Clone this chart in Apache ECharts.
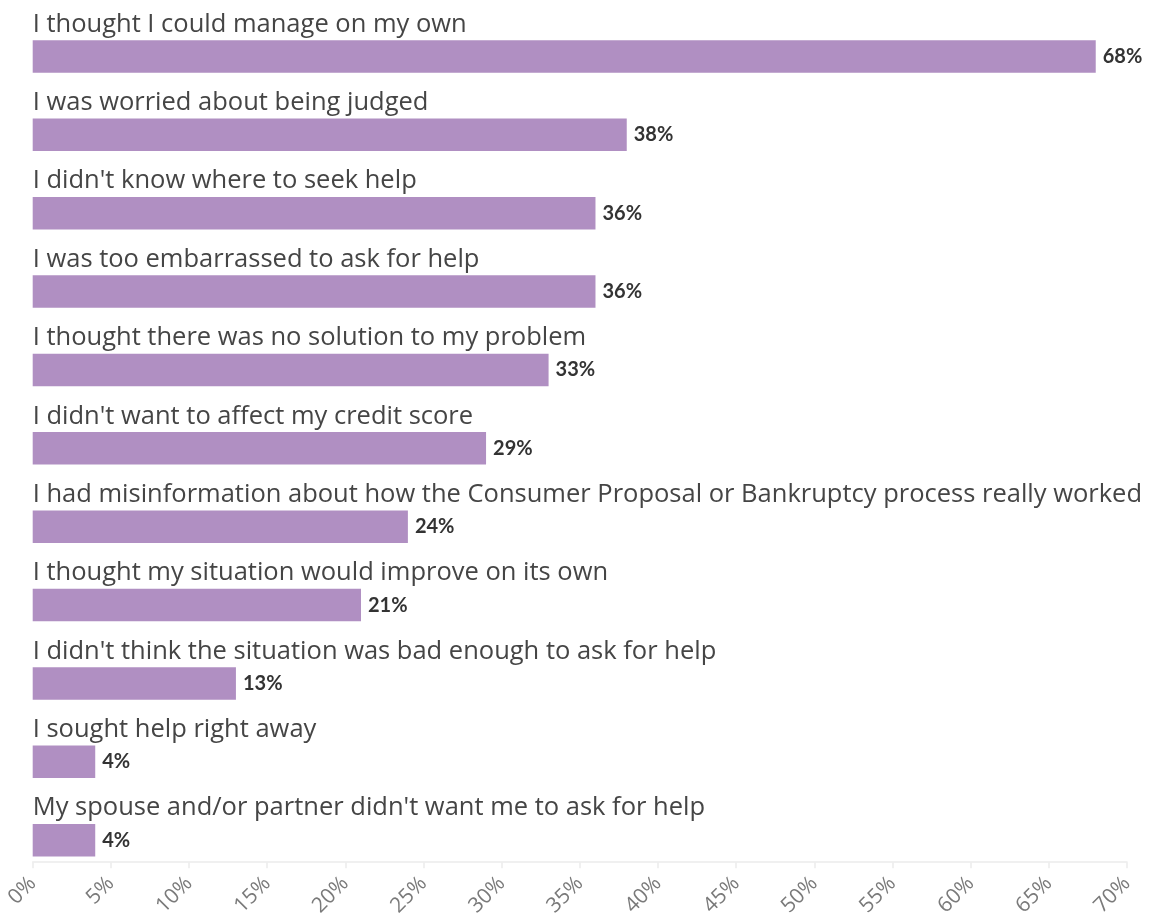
<!DOCTYPE html>
<html>
<head>
<meta charset="utf-8">
<title>Reasons for not seeking help sooner</title>
<script src="https://cdn.jsdelivr.net/npm/echarts@6/dist/echarts.min.js"></script>
<style>
  html, body { margin: 0; padding: 0; background: #ffffff; }
  #chart { width: 1155px; height: 919px; }
</style>
</head>
<body>
<div id="chart"></div>
<script>
// Survey answers, top to bottom
const categories = [
  "I thought I could manage on my own",
  "I was worried about being judged",
  "I didn't know where to seek help",
  "I was too embarrassed to ask for help",
  "I thought there was no solution to my problem",
  "I didn't want to affect my credit score",
  "I had misinformation about how the Consumer Proposal or Bankruptcy process really worked",
  "I thought my situation would improve on its own",
  "I didn't think the situation was bad enough to ask for help",
  "I sought help right away",
  "My spouse and/or partner didn't want me to ask for help"
];

// Share of respondents, in percent
const shares = [68, 38, 36, 36, 33, 29, 24, 21, 13, 4, 4];

// Value axis ticks
const tickMin = 0;
const tickMax = 70;
const tickStep = 5;

const chart = echarts.init(document.getElementById('chart'), null, { renderer: 'canvas' });

chart.setOption({
  animation: false,
  backgroundColor: '#ffffff',
  grid: {
    left: 32.7,
    right: 28,
    top: 17.2,
    bottom: 39.1,
    containLabel: false
  },
  xAxis: {
    type: 'value',
    min: tickMin,
    max: tickMax,
    interval: tickStep,
    offset: -17.2,
    axisLine: { show: true, lineStyle: { color: '#ececec', width: 1.5 } },
    axisTick: { show: true, length: 6, lineStyle: { color: '#ececec', width: 1.5 } },
    splitLine: { show: false },
    axisLabel: {
      formatter: '{value}%',
      rotate: 45,
      margin: 18,
      color: '#7a7a7a',
      fontFamily: 'Open Sans',
      fontSize: 21
    }
  },
  yAxis: {
    type: 'category',
    data: categories,
    inverse: true,
    axisLine: { show: false },
    axisTick: { show: false },
    splitLine: { show: false },
    axisLabel: {
      inside: true,
      interval: 0,
      margin: 0,
      align: 'left',
      verticalAlign: 'bottom',
      padding: [0, 0, 19, 0],
      color: '#454545',
      fontFamily: 'Open Sans',
      fontSize: 25.5
    },
    z: 5
  },
  series: [{
    type: 'bar',
    data: shares,
    barWidth: 32.5,
    itemStyle: { color: '#b08fc2' },
    label: {
      show: true,
      position: 'right',
      distance: 7,
      formatter: (p) => p.value + '%',
      color: '#333333',
      fontFamily: 'Lato',
      fontWeight: 'bold',
      fontSize: 20
    }
  }]
});
</script>
</body>
</html>
